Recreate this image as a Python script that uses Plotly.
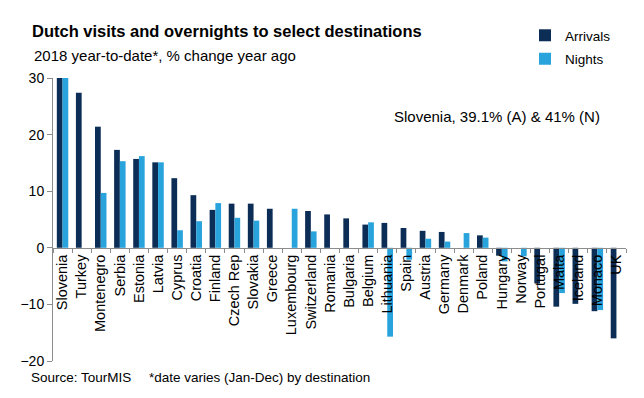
import plotly.graph_objects as go

categories = ["Slovenia", "Turkey", "Montenegro", "Serbia", "Estonia", "Latvia", "Cyprus",
              "Croatia", "Finland", "Czech Rep", "Slovakia", "Greece", "Luxembourg",
              "Switzerland", "Romania", "Bulgaria", "Belgium", "Lithuania", "Spain",
              "Austria", "Germany", "Denmark", "Poland", "Hungary", "Norway", "Portugal",
              "Malta", "Iceland", "Monaco", "UK"]
arrivals = [39.1, 27.4, 21.4, 17.3, 15.7, 15.1, 12.3, 9.3, 6.7, 7.8, 7.8, 6.9, None,
            6.5, 5.9, 5.2, 4.1, 4.4, 3.5, 3.0, 2.8, None, 2.2, -1.4, None, -6.3,
            -10.4, -9.9, -11.2, -16.0]
nights = [41.0, None, 9.7, 15.3, 16.2, 15.1, 3.1, 4.7, 7.9, 5.3, 4.8, None, 6.9,
          2.9, None, None, 4.5, -15.7, -2.1, 1.6, 1.1, 2.6, 1.8, -2.4, -1.5, None,
          -8.0, None, -11.0, None]
y_ticks = [-20, -10, 0, 10, 20, 30]

DARK = "#0c2d55"
LIGHT = "#29a3db"
FONT = "Arial, Liberation Sans, sans-serif"

L, R, T, B = 53, 18, 78, 37
W, H = 644, 398
PW, PH = W - L - R, H - T - B

def px(x):
    return (x - L) / PW

def py(y):
    return (H - B - y) / PH

fig = go.Figure()
fig.add_trace(go.Bar(x=categories, y=arrivals, name="Arrivals", marker_color=DARK,
                     marker_line_width=0, legend="legend", showlegend=True))
fig.add_trace(go.Bar(x=categories, y=nights, name="Nights", marker_color=LIGHT,
                     marker_line_width=0, legend="legend2", showlegend=True))

annotations = [
    dict(text="<b>Dutch visits and overnights to select destinations</b>", x=px(30), y=py(31),
         font=dict(size=16.5, color="#000")),
    dict(text="2018 year-to-date*, % change year ago", x=px(32), y=py(56),
         font=dict(size=15, color="#000")),
    dict(text="Slovenia, 39.1% (A) & 41% (N)", x=px(392), y=py(116.5),
         font=dict(size=15, color="#000")),
    dict(text="Source: TourMIS", x=px(29), y=py(377), font=dict(size=13.5, color="#000")),
    dict(text="*date varies (Jan-Dec) by destination", x=px(147), y=py(377),
         font=dict(size=13.5, color="#000")),
]
for a in annotations:
    a.update(xref="paper", yref="paper", xanchor="left", yanchor="middle", showarrow=False)

fig.update_layout(
    width=W, height=H,
    margin=dict(l=L, r=R, t=T, b=B),
    paper_bgcolor="white", plot_bgcolor="white",
    font=dict(family=FONT, color="#000"),
    showlegend=True,
    barmode="group", bargap=0.4, bargroupgap=0,
    annotations=annotations,
    legend=dict(x=px(525), y=py(20), xanchor="left", yanchor="top",
                font=dict(size=13.5, color="#000"), bgcolor="rgba(0,0,0,0)"),
    legend2=dict(x=px(525), y=py(43.5), xanchor="left", yanchor="top",
                 font=dict(size=13.5, color="#000"), bgcolor="rgba(0,0,0,0)"),
    xaxis=dict(
        type="category", anchor="free", position=20 / 50, automargin=False,
        showline=True, linecolor="#8c8c8c", linewidth=1,
        ticks="outside", ticklen=4, tickcolor="#8c8c8c", tickson="boundaries",
        tickangle=-90, tickfont=dict(size=14.5, color="#000"),
        showgrid=False, zeroline=False,
    ),
    yaxis=dict(
        range=[-20, 30], tickvals=y_ticks, automargin=False,
        showline=True, linecolor="#8c8c8c", linewidth=1,
        ticks="outside", ticklen=5, tickcolor="#8c8c8c",
        tickfont=dict(size=14, color="#000"),
        showgrid=False, zeroline=False,
    ),
)

fig.write_html("out.html", config={"displayModeBar": False},
               post_script="document.body.style.margin='0';")
